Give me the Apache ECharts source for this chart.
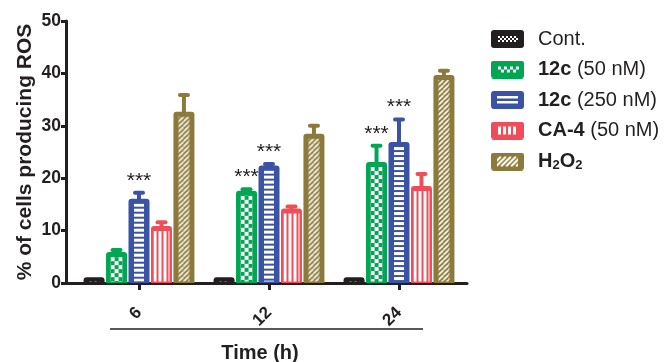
<!DOCTYPE html>
<html><head><meta charset="utf-8">
<script src="https://cdn.jsdelivr.net/npm/echarts@6/dist/echarts.min.js"></script>
<style>html,body{margin:0;padding:0;background:#fff}#c{width:667px;height:362px}</style>
</head><body><div id="c"></div>
<script>
// ---- data ----
const categories = ['6', '12', '24'];
const seriesNames = ['Cont.', '12c (50 nM)', '12c (250 nM)', 'CA-4 (50 nM)', 'H2O2'];
const contMean = [1.1, 1.1, 1.1];
const contErr  = [0, 0, 0];
const c50Mean  = [5.9, 17.6, 23.1];
const c50Err   = [0.4, 0.3, 3.1];
const c250Mean = [16.1, 22.4, 26.9];
const c250Err  = [1.1, 0.3, 4.3];
const ca4Mean  = [10.9, 14.2, 18.5];
const ca4Err   = [0.7, 0.4, 2.3];
const h2o2Mean = [32.7, 28.5, 39.7];
const h2o2Err  = [3.2, 1.5, 0.8];
const contSig = ['', '', ''];
const c50Sig  = ['', '***', '***'];
const c250Sig = ['***', '***', '***'];
const ca4Sig  = ['', '', ''];
const h2o2Sig = ['', '', ''];
const yTicks = [0, 10, 20, 30, 40, 50];
const legendLabels = {
  'Cont.': 'Cont.',
  '12c (50 nM)': '{b|12c} (50 nM)',
  '12c (250 nM)': '{b|12c} (250 nM)',
  'CA-4 (50 nM)': '{b|CA-4} (50 nM)',
  'H2O2': '{b|H}{s|2}{b|O}{s|2}'
};
const xTitle = 'Time (h)';
const yTitle = '% of cells producing ROS';

// ---- style ----
const FONT = '"Liberation Sans", Arial, Helvetica, sans-serif';
const INK = '#231f20';
const colors = ['#231f20', '#00a651', '#3a53a4', '#ef4d59', '#8c7a3a'];
const insetX = [5, 4.5, 5.5, 2.5, 5];
const insetTop = [3, 5, 5, 5, 5];
const BAR_W = 21, BAR_GAP = 0.07;

function mkCanvas(w, h) { const c = document.createElement('canvas'); c.width = w; c.height = h; return c; }
function pat(w, h, bg, draw) {
  const c = mkCanvas(w, h);
  const g = c.getContext('2d');
  g.fillStyle = bg; g.fillRect(0, 0, w, h);
  g.fillStyle = '#fff'; g.strokeStyle = '#fff';
  draw(g);
  return { image: c, repeat: 'repeat' };
}
function hatch(g, w, h, step) {
  g.lineWidth = 1.6; g.beginPath();
  for (let k = -h; k < w + h; k += step) { g.moveTo(k, h); g.lineTo(k + h, 0); }
  g.stroke();
}
const patterns = [
  pat(5, 3, colors[0], g => { g.fillRect(1, 1, 2, 1); }),
  pat(8, 8, colors[1], g => { g.fillRect(0, 0, 4, 4); g.fillRect(4, 4, 4, 4); }),
  pat(5, 5, colors[2], g => { g.fillRect(0, 0, 5, 3); }),
  pat(5, 5, colors[3], g => { g.fillRect(0, 0, 3, 5); }),
  pat(5, 5, colors[4], g => { hatch(g, 5, 5, 5); })
];

// legend icons (decoration)
function rr(g, w, h, r, col) {
  g.fillStyle = col; g.beginPath();
  g.moveTo(r, 0); g.lineTo(w - r, 0); g.quadraticCurveTo(w, 0, w, r); g.lineTo(w, h - r);
  g.quadraticCurveTo(w, h, w - r, h); g.lineTo(r, h); g.quadraticCurveTo(0, h, 0, h - r);
  g.lineTo(0, r); g.quadraticCurveTo(0, 0, r, 0); g.fill();
}
function icon(col, draw) {
  const c = mkCanvas(33, 18); const g = c.getContext('2d');
  rr(g, 33, 18, 3, col); g.fillStyle = '#fff'; g.strokeStyle = '#fff'; draw(g);
  return 'image://' + c.toDataURL();
}
const legendIcons = [
  icon(colors[0], g => { for (let y = 6; y < 12; y += 2) for (let x = 7; x < 26; x += 2) if (((x - 7) / 2 + (y - 6) / 2) % 2 === 0) g.fillRect(x, y, 2, 2); }),
  icon(colors[1], g => { for (let y = 6; y < 12; y += 3) for (let x = 7; x < 26; x += 3) if (((x - 7) / 3 + (y - 6) / 3) % 2 === 0) g.fillRect(x, y, 3, 3); }),
  icon(colors[2], g => { g.fillRect(6, 5, 21, 2.5); g.fillRect(6, 10, 21, 2.5); }),
  icon(colors[3], g => { [7, 12, 17, 22].forEach(x => g.fillRect(x, 5, 3, 8)); }),
  icon(colors[4], g => { g.save(); g.beginPath(); g.rect(6, 4, 21, 10); g.clip(); g.lineWidth = 2; g.beginPath();
    for (let k = -10; k < 40; k += 5) { g.moveTo(k, 14); g.lineTo(k + 10, 4); } g.stroke(); g.restore(); })
];

const means = [contMean, c50Mean, c250Mean, ca4Mean, h2o2Mean];
const errs = [contErr, c50Err, c250Err, ca4Err, h2o2Err];
const sigs = [contSig, c50Sig, c250Sig, ca4Sig, h2o2Sig];

const decoData = [];
means.forEach((m, s) => m.forEach((v, k) => decoData.push({ s, cat: k, mean: v, err: errs[s][k], sig: sigs[s][k] })));

function offsetFor(s) { return (s - 2) * BAR_W * (1 + BAR_GAP); }

const barSeries = seriesNames.map((name, s) => ({
  type: 'bar', name, data: means[s], xAxisIndex: 0, yAxisIndex: 0,
  barWidth: BAR_W, barGap: (BAR_GAP * 100) + '%',
  itemStyle: { color: colors[s], borderRadius: [3, 3, 0, 0] },
  emphasis: { disabled: true }
}));

const decoSeries = {
  type: 'custom', name: 'deco', xAxisIndex: 0, yAxisIndex: 0, z: 5, silent: true,
  data: decoData.map(d => [d.cat, d.mean + d.err]),
  encode: { x: 0, y: 1 },
  renderItem(params, api) {
    const d = decoData[params.dataIndex];
    const b = api.coord([d.cat, 0]);
    const c = api.coord([d.cat, d.mean]);
    const t = api.coord([d.cat, d.mean + d.err]);
    const x = c[0] + offsetFor(d.s);
    const col = colors[d.s];
    const ch = [];
    const left = x - BAR_W / 2 + insetX[d.s];
    const w = BAR_W - 2 * insetX[d.s];
    const top = c[1] + insetTop[d.s];
    const h = b[1] - 1.5 - top;
    if (h > 0) ch.push({ type: 'rect', x: left, y: top, shape: { x: 0, y: 0, width: w, height: h }, style: { fill: patterns[d.s] } });
    if (d.err > 0) {
      ch.push({ type: 'line', shape: { x1: x, y1: c[1] + 1, x2: x, y2: t[1] }, style: { stroke: col, lineWidth: 4 } });
      ch.push({ type: 'line', shape: { x1: x - 4, y1: t[1], x2: x + 4, y2: t[1] }, style: { stroke: col, lineWidth: 4, lineCap: 'round' } });
    }
    if (d.sig) {
      ch.push({ type: 'text', style: { text: d.sig, x: x, y: t[1] - 12, align: 'center', verticalAlign: 'middle', textAlign: 'center', textVerticalAlign: 'middle', fontSize: 21, fontFamily: FONT, fill: INK } });
    }
    return { type: 'group', children: ch };
  }
};

const chart = echarts.init(document.getElementById('c'), null, { renderer: 'canvas' });
chart.setOption({
  animation: false,
  backgroundColor: '#fff',
  textStyle: { fontFamily: FONT },
  grid: [
    { left: 74, width: 390, top: 21, height: 262, containLabel: false, outerBoundsMode: 'none' },
    { left: 66, width: 401, top: 21, height: 262, containLabel: false, outerBoundsMode: 'none' }
  ],
  xAxis: [
    { type: 'category', gridIndex: 0, data: categories,
      axisLine: { show: false },
      axisTick: { show: true, alignWithLabel: true, length: 7, lineStyle: { color: INK, width: 3 } },
      axisLabel: { rotate: 45, margin: 27, fontSize: 17, fontWeight: 'bold', color: INK, fontFamily: FONT },
      name: xTitle, nameLocation: 'middle', nameGap: 60, nameMoveOverlap: false,
      nameTextStyle: { fontSize: 20, fontWeight: 'bold', color: INK, fontFamily: FONT, padding: [0, 18, 0, 0] } },
    { type: 'value', gridIndex: 1, min: 0, max: 1,
      axisLine: { show: true, lineStyle: { color: INK, width: 3 } },
      axisTick: { show: false }, axisLabel: { show: false }, splitLine: { show: false } }
  ],
  yAxis: [
    { type: 'value', gridIndex: 0, min: yTicks[0], max: yTicks[yTicks.length - 1], interval: yTicks[1] - yTicks[0], show: false },
    { type: 'value', gridIndex: 1, min: yTicks[0], max: yTicks[yTicks.length - 1], interval: yTicks[1] - yTicks[0],
      axisLine: { show: true, lineStyle: { color: INK, width: 3 } },
      axisTick: { show: true, length: 5, lineStyle: { color: INK, width: 3 } },
      axisLabel: { fontSize: 17.5, fontWeight: 'bold', color: INK, margin: 5, fontFamily: FONT },
      splitLine: { show: false },
      name: yTitle, nameLocation: 'middle', nameGap: 30, nameMoveOverlap: false,
      nameTextStyle: { fontSize: 21, fontWeight: 'bold', color: INK, fontFamily: FONT } }
  ],
  legend: {
    data: seriesNames.map((n, s) => ({ name: n, icon: legendIcons[s] })),
    orient: 'vertical', left: 486, top: 24,
    itemWidth: 33, itemHeight: 18, itemGap: 10.5,
    selectedMode: false,
    formatter: n => legendLabels[n],
    textStyle: { fontSize: 20, lineHeight: 18, color: INK, fontFamily: FONT, padding: [0, 0, 0, 9],
      rich: { b: { fontSize: 20, lineHeight: 18, fontWeight: 'bold', color: INK, fontFamily: FONT },
              s: { fontSize: 13, lineHeight: 10, fontWeight: 'bold', color: INK, fontFamily: FONT, padding: [8, 0, 0, 0] } } }
  },
  graphic: [
    { type: 'line', shape: { x1: 110, y1: 329, x2: 423, y2: 329 }, style: { stroke: INK, lineWidth: 1.5 } }
  ],
  series: [...barSeries, decoSeries]
});
</script></body></html>
